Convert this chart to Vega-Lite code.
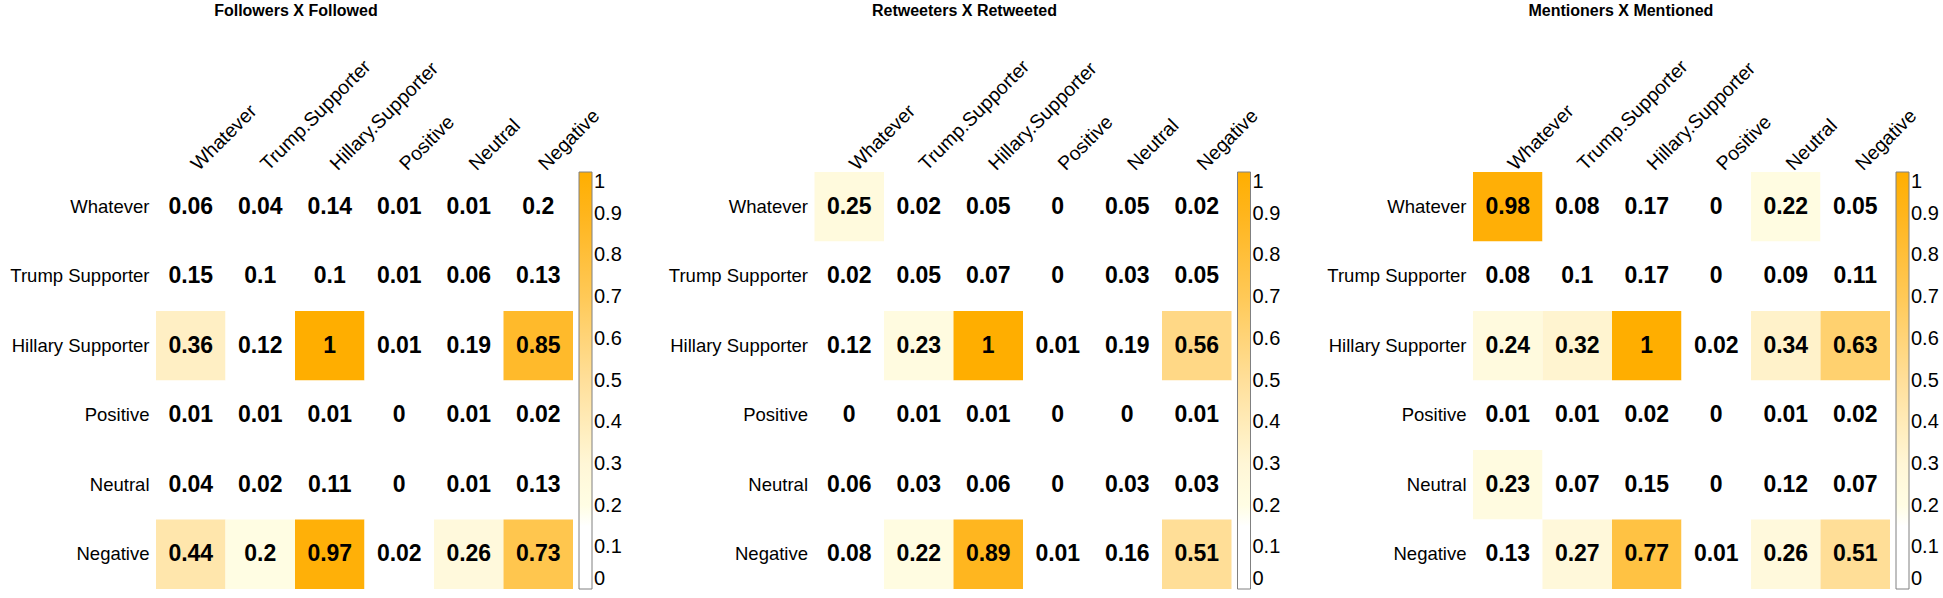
{
  "$schema": "https://vega.github.io/schema/vega-lite/v6.json",
  "background": "white",
  "padding": {"left": 9, "top": 2, "right": 0, "bottom": 0},
  "datasets": {
    "followers": [
      {"r": "Whatever", "c": "Whatever", "v": 0.06, "t": "0.06"},
      {"r": "Whatever", "c": "Trump.Supporter", "v": 0.04, "t": "0.04"},
      {"r": "Whatever", "c": "Hillary.Supporter", "v": 0.14, "t": "0.14"},
      {"r": "Whatever", "c": "Positive", "v": 0.01, "t": "0.01"},
      {"r": "Whatever", "c": "Neutral", "v": 0.01, "t": "0.01"},
      {"r": "Whatever", "c": "Negative", "v": 0.195, "t": "0.2"},
      {"r": "Trump Supporter", "c": "Whatever", "v": 0.15, "t": "0.15"},
      {"r": "Trump Supporter", "c": "Trump.Supporter", "v": 0.1, "t": "0.1"},
      {"r": "Trump Supporter", "c": "Hillary.Supporter", "v": 0.1, "t": "0.1"},
      {"r": "Trump Supporter", "c": "Positive", "v": 0.01, "t": "0.01"},
      {"r": "Trump Supporter", "c": "Neutral", "v": 0.06, "t": "0.06"},
      {"r": "Trump Supporter", "c": "Negative", "v": 0.13, "t": "0.13"},
      {"r": "Hillary Supporter", "c": "Whatever", "v": 0.36, "t": "0.36"},
      {"r": "Hillary Supporter", "c": "Trump.Supporter", "v": 0.12, "t": "0.12"},
      {"r": "Hillary Supporter", "c": "Hillary.Supporter", "v": 1, "t": "1"},
      {"r": "Hillary Supporter", "c": "Positive", "v": 0.01, "t": "0.01"},
      {"r": "Hillary Supporter", "c": "Neutral", "v": 0.19, "t": "0.19"},
      {"r": "Hillary Supporter", "c": "Negative", "v": 0.85, "t": "0.85"},
      {"r": "Positive", "c": "Whatever", "v": 0.01, "t": "0.01"},
      {"r": "Positive", "c": "Trump.Supporter", "v": 0.01, "t": "0.01"},
      {"r": "Positive", "c": "Hillary.Supporter", "v": 0.01, "t": "0.01"},
      {"r": "Positive", "c": "Positive", "v": 0, "t": "0"},
      {"r": "Positive", "c": "Neutral", "v": 0.01, "t": "0.01"},
      {"r": "Positive", "c": "Negative", "v": 0.02, "t": "0.02"},
      {"r": "Neutral", "c": "Whatever", "v": 0.04, "t": "0.04"},
      {"r": "Neutral", "c": "Trump.Supporter", "v": 0.02, "t": "0.02"},
      {"r": "Neutral", "c": "Hillary.Supporter", "v": 0.11, "t": "0.11"},
      {"r": "Neutral", "c": "Positive", "v": 0, "t": "0"},
      {"r": "Neutral", "c": "Neutral", "v": 0.01, "t": "0.01"},
      {"r": "Neutral", "c": "Negative", "v": 0.13, "t": "0.13"},
      {"r": "Negative", "c": "Whatever", "v": 0.44, "t": "0.44"},
      {"r": "Negative", "c": "Trump.Supporter", "v": 0.204, "t": "0.2"},
      {"r": "Negative", "c": "Hillary.Supporter", "v": 0.97, "t": "0.97"},
      {"r": "Negative", "c": "Positive", "v": 0.02, "t": "0.02"},
      {"r": "Negative", "c": "Neutral", "v": 0.26, "t": "0.26"},
      {"r": "Negative", "c": "Negative", "v": 0.73, "t": "0.73"}
    ],
    "retweeters": [
      {"r": "Whatever", "c": "Whatever", "v": 0.25, "t": "0.25"},
      {"r": "Whatever", "c": "Trump.Supporter", "v": 0.02, "t": "0.02"},
      {"r": "Whatever", "c": "Hillary.Supporter", "v": 0.05, "t": "0.05"},
      {"r": "Whatever", "c": "Positive", "v": 0, "t": "0"},
      {"r": "Whatever", "c": "Neutral", "v": 0.05, "t": "0.05"},
      {"r": "Whatever", "c": "Negative", "v": 0.02, "t": "0.02"},
      {"r": "Trump Supporter", "c": "Whatever", "v": 0.02, "t": "0.02"},
      {"r": "Trump Supporter", "c": "Trump.Supporter", "v": 0.05, "t": "0.05"},
      {"r": "Trump Supporter", "c": "Hillary.Supporter", "v": 0.07, "t": "0.07"},
      {"r": "Trump Supporter", "c": "Positive", "v": 0, "t": "0"},
      {"r": "Trump Supporter", "c": "Neutral", "v": 0.03, "t": "0.03"},
      {"r": "Trump Supporter", "c": "Negative", "v": 0.05, "t": "0.05"},
      {"r": "Hillary Supporter", "c": "Whatever", "v": 0.12, "t": "0.12"},
      {"r": "Hillary Supporter", "c": "Trump.Supporter", "v": 0.23, "t": "0.23"},
      {"r": "Hillary Supporter", "c": "Hillary.Supporter", "v": 1, "t": "1"},
      {"r": "Hillary Supporter", "c": "Positive", "v": 0.01, "t": "0.01"},
      {"r": "Hillary Supporter", "c": "Neutral", "v": 0.19, "t": "0.19"},
      {"r": "Hillary Supporter", "c": "Negative", "v": 0.56, "t": "0.56"},
      {"r": "Positive", "c": "Whatever", "v": 0, "t": "0"},
      {"r": "Positive", "c": "Trump.Supporter", "v": 0.01, "t": "0.01"},
      {"r": "Positive", "c": "Hillary.Supporter", "v": 0.01, "t": "0.01"},
      {"r": "Positive", "c": "Positive", "v": 0, "t": "0"},
      {"r": "Positive", "c": "Neutral", "v": 0, "t": "0"},
      {"r": "Positive", "c": "Negative", "v": 0.01, "t": "0.01"},
      {"r": "Neutral", "c": "Whatever", "v": 0.06, "t": "0.06"},
      {"r": "Neutral", "c": "Trump.Supporter", "v": 0.03, "t": "0.03"},
      {"r": "Neutral", "c": "Hillary.Supporter", "v": 0.06, "t": "0.06"},
      {"r": "Neutral", "c": "Positive", "v": 0, "t": "0"},
      {"r": "Neutral", "c": "Neutral", "v": 0.03, "t": "0.03"},
      {"r": "Neutral", "c": "Negative", "v": 0.03, "t": "0.03"},
      {"r": "Negative", "c": "Whatever", "v": 0.08, "t": "0.08"},
      {"r": "Negative", "c": "Trump.Supporter", "v": 0.22, "t": "0.22"},
      {"r": "Negative", "c": "Hillary.Supporter", "v": 0.89, "t": "0.89"},
      {"r": "Negative", "c": "Positive", "v": 0.01, "t": "0.01"},
      {"r": "Negative", "c": "Neutral", "v": 0.16, "t": "0.16"},
      {"r": "Negative", "c": "Negative", "v": 0.51, "t": "0.51"}
    ],
    "mentioners": [
      {"r": "Whatever", "c": "Whatever", "v": 0.98, "t": "0.98"},
      {"r": "Whatever", "c": "Trump.Supporter", "v": 0.08, "t": "0.08"},
      {"r": "Whatever", "c": "Hillary.Supporter", "v": 0.17, "t": "0.17"},
      {"r": "Whatever", "c": "Positive", "v": 0, "t": "0"},
      {"r": "Whatever", "c": "Neutral", "v": 0.22, "t": "0.22"},
      {"r": "Whatever", "c": "Negative", "v": 0.05, "t": "0.05"},
      {"r": "Trump Supporter", "c": "Whatever", "v": 0.08, "t": "0.08"},
      {"r": "Trump Supporter", "c": "Trump.Supporter", "v": 0.1, "t": "0.1"},
      {"r": "Trump Supporter", "c": "Hillary.Supporter", "v": 0.17, "t": "0.17"},
      {"r": "Trump Supporter", "c": "Positive", "v": 0, "t": "0"},
      {"r": "Trump Supporter", "c": "Neutral", "v": 0.09, "t": "0.09"},
      {"r": "Trump Supporter", "c": "Negative", "v": 0.11, "t": "0.11"},
      {"r": "Hillary Supporter", "c": "Whatever", "v": 0.24, "t": "0.24"},
      {"r": "Hillary Supporter", "c": "Trump.Supporter", "v": 0.32, "t": "0.32"},
      {"r": "Hillary Supporter", "c": "Hillary.Supporter", "v": 1, "t": "1"},
      {"r": "Hillary Supporter", "c": "Positive", "v": 0.02, "t": "0.02"},
      {"r": "Hillary Supporter", "c": "Neutral", "v": 0.34, "t": "0.34"},
      {"r": "Hillary Supporter", "c": "Negative", "v": 0.63, "t": "0.63"},
      {"r": "Positive", "c": "Whatever", "v": 0.01, "t": "0.01"},
      {"r": "Positive", "c": "Trump.Supporter", "v": 0.01, "t": "0.01"},
      {"r": "Positive", "c": "Hillary.Supporter", "v": 0.02, "t": "0.02"},
      {"r": "Positive", "c": "Positive", "v": 0, "t": "0"},
      {"r": "Positive", "c": "Neutral", "v": 0.01, "t": "0.01"},
      {"r": "Positive", "c": "Negative", "v": 0.02, "t": "0.02"},
      {"r": "Neutral", "c": "Whatever", "v": 0.23, "t": "0.23"},
      {"r": "Neutral", "c": "Trump.Supporter", "v": 0.07, "t": "0.07"},
      {"r": "Neutral", "c": "Hillary.Supporter", "v": 0.15, "t": "0.15"},
      {"r": "Neutral", "c": "Positive", "v": 0, "t": "0"},
      {"r": "Neutral", "c": "Neutral", "v": 0.12, "t": "0.12"},
      {"r": "Neutral", "c": "Negative", "v": 0.07, "t": "0.07"},
      {"r": "Negative", "c": "Whatever", "v": 0.13, "t": "0.13"},
      {"r": "Negative", "c": "Trump.Supporter", "v": 0.27, "t": "0.27"},
      {"r": "Negative", "c": "Hillary.Supporter", "v": 0.77, "t": "0.77"},
      {"r": "Negative", "c": "Positive", "v": 0.01, "t": "0.01"},
      {"r": "Negative", "c": "Neutral", "v": 0.26, "t": "0.26"},
      {"r": "Negative", "c": "Negative", "v": 0.51, "t": "0.51"}
    ]
  },
  "hconcat": [
    {
      "width": 417, "height": 417,
      "title": {"text": "Followers X Followed", "dx": -20},
      "data": {"name": "followers"},
      "encoding": {
        "x": {"field": "c", "type": "nominal", "sort": ["Whatever", "Trump.Supporter", "Hillary.Supporter", "Positive", "Neutral", "Negative"], "scale": {"paddingInner": 0, "paddingOuter": 0}, "axis": {"orient": "top", "title": null}},
        "y": {"field": "r", "type": "nominal", "sort": ["Whatever", "Trump Supporter", "Hillary Supporter", "Positive", "Neutral", "Negative"], "scale": {"paddingInner": 0, "paddingOuter": 0}, "axis": {"title": null}}
      },
      "layer": [
        {"mark": {"type": "rect"}, "encoding": {"color": {"field": "v", "type": "quantitative", "scale": {"domain": [0, 0.196, 0.2, 0.3, 0.4, 0.5, 0.6, 0.7, 0.8, 0.9, 1], "range": ["#FFFFFF", "#FFFFFF", "#FFFDE4", "#FFF6D6", "#FFEBB8", "#FFDF9A", "#FFD479", "#FFC957", "#FFBF3A", "#FFB51C", "#FFAE00"], "interpolate": "rgb"}, "legend": {"title": null, "values": [0, 0.1, 0.2, 0.3, 0.4, 0.5, 0.6, 0.7, 0.8, 0.9, 1], "format": "~g", "labelBaseline": "middle"}}}},
        {"mark": {"type": "text", "fontWeight": "bold", "fontSize": 23, "font": "Liberation Sans", "color": "black"}, "encoding": {"text": {"field": "t"}}}
      ]
    },
    {
      "width": 417, "height": 417,
      "title": {"text": "Retweeters X Retweeted", "dx": -10},
      "data": {"name": "retweeters"},
      "encoding": {
        "x": {"field": "c", "type": "nominal", "sort": ["Whatever", "Trump.Supporter", "Hillary.Supporter", "Positive", "Neutral", "Negative"], "scale": {"paddingInner": 0, "paddingOuter": 0}, "axis": {"orient": "top", "title": null}},
        "y": {"field": "r", "type": "nominal", "sort": ["Whatever", "Trump Supporter", "Hillary Supporter", "Positive", "Neutral", "Negative"], "scale": {"paddingInner": 0, "paddingOuter": 0}, "axis": {"title": null}}
      },
      "layer": [
        {"mark": {"type": "rect"}, "encoding": {"color": {"field": "v", "type": "quantitative", "scale": {"domain": [0, 0.196, 0.2, 0.3, 0.4, 0.5, 0.6, 0.7, 0.8, 0.9, 1], "range": ["#FFFFFF", "#FFFFFF", "#FFFDE4", "#FFF6D6", "#FFEBB8", "#FFDF9A", "#FFD479", "#FFC957", "#FFBF3A", "#FFB51C", "#FFAE00"], "interpolate": "rgb"}, "legend": {"title": null, "values": [0, 0.1, 0.2, 0.3, 0.4, 0.5, 0.6, 0.7, 0.8, 0.9, 1], "format": "~g", "labelBaseline": "middle"}}}},
        {"mark": {"type": "text", "fontWeight": "bold", "fontSize": 23, "font": "Liberation Sans", "color": "black"}, "encoding": {"text": {"field": "t"}}}
      ]
    },
    {
      "width": 417, "height": 417,
      "title": {"text": "Mentioners X Mentioned", "dx": -12},
      "data": {"name": "mentioners"},
      "encoding": {
        "x": {"field": "c", "type": "nominal", "sort": ["Whatever", "Trump.Supporter", "Hillary.Supporter", "Positive", "Neutral", "Negative"], "scale": {"paddingInner": 0, "paddingOuter": 0}, "axis": {"orient": "top", "title": null}},
        "y": {"field": "r", "type": "nominal", "sort": ["Whatever", "Trump Supporter", "Hillary Supporter", "Positive", "Neutral", "Negative"], "scale": {"paddingInner": 0, "paddingOuter": 0}, "axis": {"title": null}}
      },
      "layer": [
        {"mark": {"type": "rect"}, "encoding": {"color": {"field": "v", "type": "quantitative", "scale": {"domain": [0, 0.196, 0.2, 0.3, 0.4, 0.5, 0.6, 0.7, 0.8, 0.9, 1], "range": ["#FFFFFF", "#FFFFFF", "#FFFDE4", "#FFF6D6", "#FFEBB8", "#FFDF9A", "#FFD479", "#FFC957", "#FFBF3A", "#FFB51C", "#FFAE00"], "interpolate": "rgb"}, "legend": {"title": null, "values": [0, 0.1, 0.2, 0.3, 0.4, 0.5, 0.6, 0.7, 0.8, 0.9, 1], "format": "~g", "labelBaseline": "middle"}}}},
        {"mark": {"type": "text", "fontWeight": "bold", "fontSize": 23, "font": "Liberation Sans", "color": "black"}, "encoding": {"text": {"field": "t"}}}
      ]
    }
  ],
  "spacing": 241.5,
  "bounds": "flush",
  "resolve": {"scale": {"color": "independent"}, "legend": {"color": "independent"}},
  "config": {
    "view": {"stroke": null},
    "font": "Liberation Sans",
    "title": {"font": "Liberation Sans", "fontSize": 16, "fontWeight": "bold", "color": "black", "anchor": "middle", "frame": "bounds", "offset": 37},
    "axis": {"domain": false, "ticks": false, "tickSize": 0, "grid": false, "labelFont": "Liberation Sans", "labelFontSize": 18.5, "labelColor": "black", "labelLimit": 300},
    "axisY": {"labelPadding": 7},
    "axisX": {"labelAngle": -45, "labelAlign": "left", "labelBaseline": "alphabetic", "labelPadding": 1, "labelOffset": 8, "labelFontSize": 19.5},
    "legend": {
      "type": "gradient", "direction": "vertical", "orient": "right", "offset": 6, "padding": 0,
      "gradientLength": 417, "gradientThickness": 13, "gradientStrokeColor": "#808080", "gradientStrokeWidth": 1,
      "labelFont": "Liberation Sans", "labelFontSize": 20, "labelColor": "black", "labelOffset": 4, "labelBaseline": "middle", "labelOverlap": false
    }
  }
}
